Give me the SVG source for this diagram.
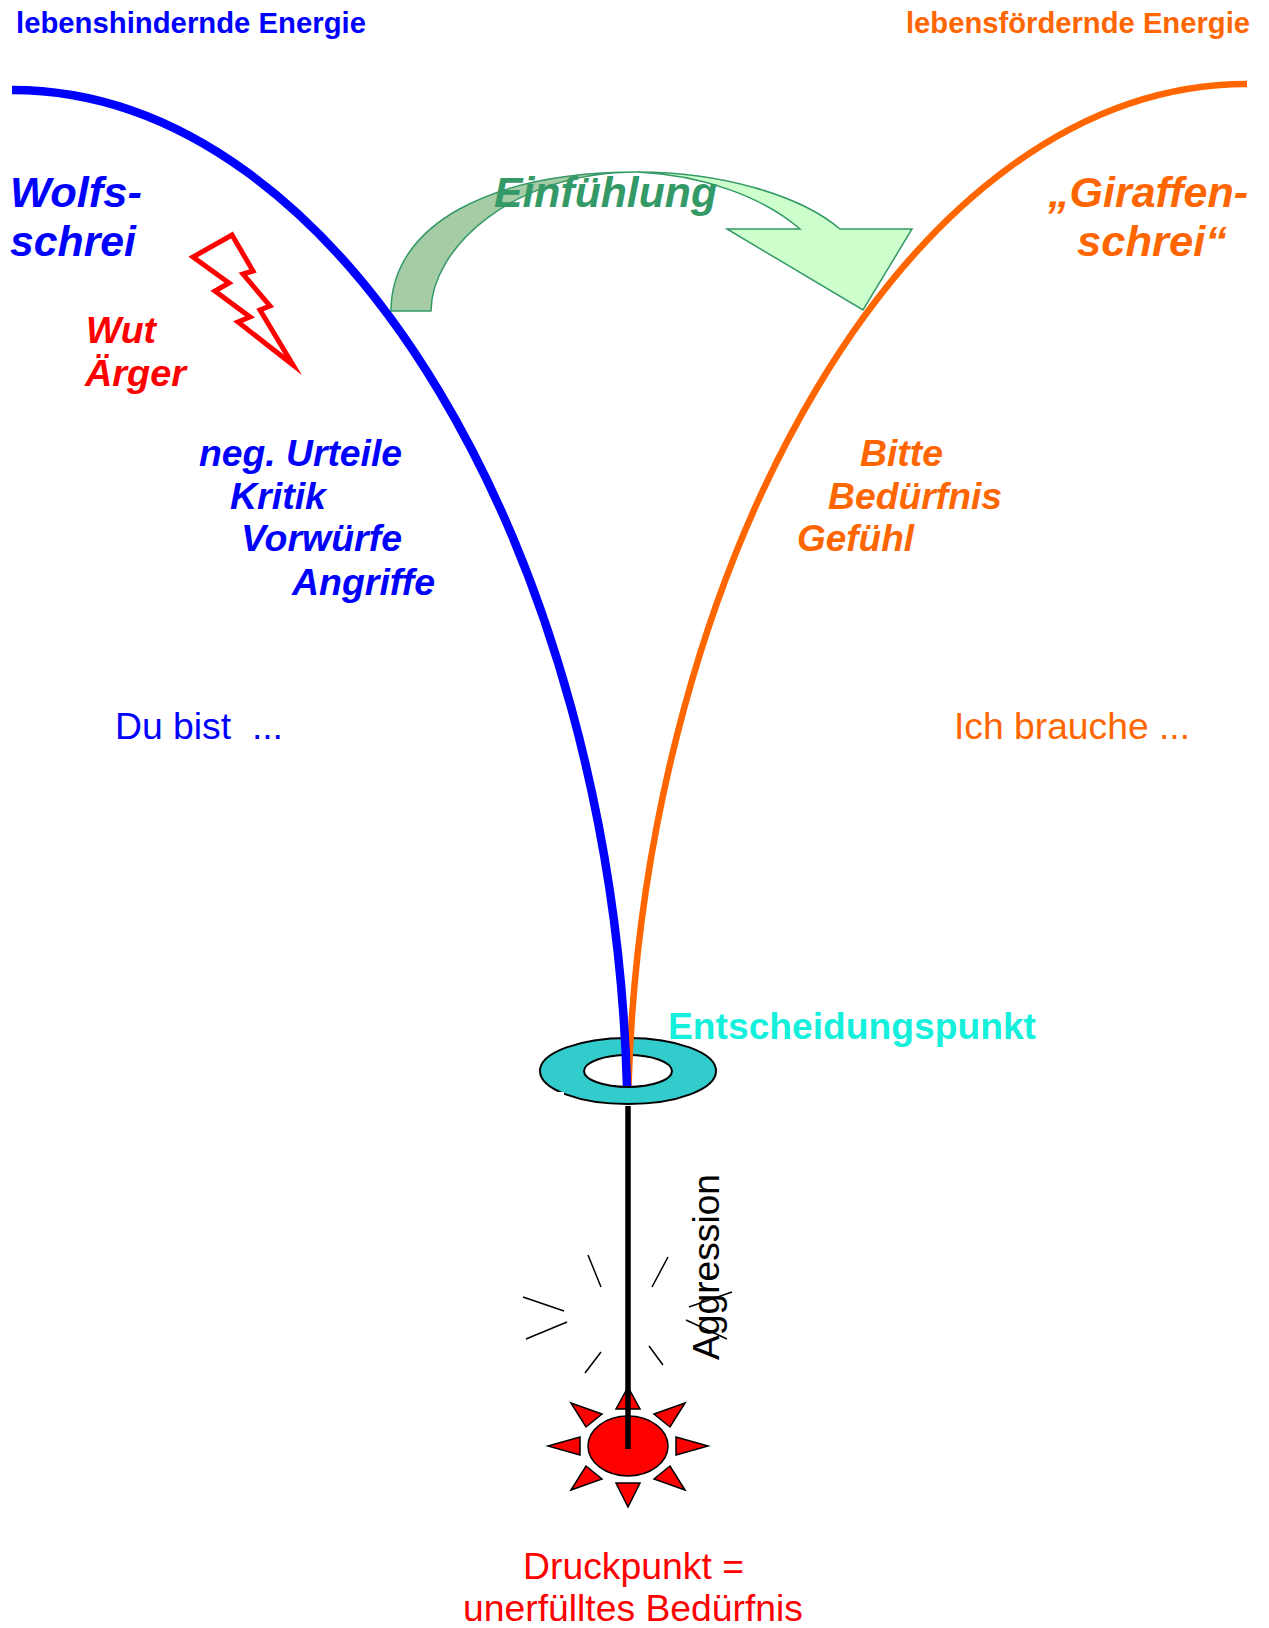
<svg xmlns="http://www.w3.org/2000/svg" width="1269" height="1628" viewBox="0 0 1269 1628">
<style>
text{font-family:"Liberation Sans",Arial,sans-serif;white-space:pre}
.b{font-weight:bold}
.bi{font-weight:bold;font-style:italic}
.bl{fill:#0000ff}.or{fill:#ff6600}.rd{fill:#ff0000}.gr{fill:#339966}
.s{fill:#ff0000;stroke:#000;stroke-width:1.5}
.t{stroke:#000;stroke-width:1.5;fill:none}
</style>
<rect width="1269" height="1628" fill="#fff"/>
<g id="ring"><path fill-rule="evenodd" d="M540 1071A88 33 0 1 1 716 1071A88 33 0 1 1 540 1071ZM584 1071A44 16 0 1 0 672 1071A44 16 0 1 0 584 1071Z" fill="#33cccc" stroke="#000" stroke-width="2"/><rect x="553" y="1092" width="11" height="5" fill="#fff"/></g>
<g id="einfuehlung-arrow">
<path d="M391 311C391 225 490 172 638 172C510 172 431 250 431 311Z" fill="#a6cca6" stroke="#339966" stroke-width="1.5"/>
<path d="M638 172C720 172 800 195 840 229H912L863 310L727 229H800C760 195 700 175 638 172Z" fill="#ccffcc" stroke="#339966" stroke-width="1.5"/>
</g>
<g id="blitz"><path d="M232 235L193 257L229 283L215 291L250 317L238 322L293 365L260 310L270 306L243 274L253 271Z" fill="#fff" stroke="#ff0000" stroke-width="5" stroke-miterlimit="10"/></g>
<g id="sun">
<ellipse cx="628" cy="1446" rx="40" ry="30" class="s"/>
<path class="s" d="M628 1387L616 1409H640Z"/>
<path class="s" d="M628 1507L616 1483H640Z"/>
<path class="s" d="M548 1446L580 1437V1455Z"/>
<path class="s" d="M708 1446L676 1437V1455Z"/>
<path class="s" d="M571 1403L586 1427L602 1414Z"/>
<path class="s" d="M685 1403L670 1427L654 1414Z"/>
<path class="s" d="M571 1490L586 1466L602 1479Z"/>
<path class="s" d="M685 1490L670 1466L654 1479Z"/>
</g>
<g id="ticks">
<path class="t" d="M588 1255L601 1287M668 1257L652 1287M523 1297L564 1311M526 1339L567 1322M585 1373L601 1352M663 1365L649 1346M689 1307L732 1292M686 1320L727 1339"/>
</g>
<g id="connectors">
<path d="M1247 84C910 84 644 560 628.5 1086" fill="none" stroke="#ff6600" stroke-width="6.5"/>
<path d="M12 90C345 90 612 560 627 1086" fill="none" stroke="#0000ff" stroke-width="8.5"/>
<path d="M628 1106V1449" stroke="#000" stroke-width="5.5" fill="none"/>
</g>
<g id="labels">
<text x="16" y="33" class="b bl" font-size="29" textLength="350" lengthAdjust="spacingAndGlyphs">lebenshindernde Energie</text>
<text x="906" y="33" class="b or" font-size="29" textLength="344" lengthAdjust="spacingAndGlyphs">lebensfördernde Energie</text>
<text x="10" y="207" class="bi bl" font-size="43" textLength="132" lengthAdjust="spacingAndGlyphs">Wolfs-</text>
<text x="10" y="256" class="bi bl" font-size="43" textLength="126" lengthAdjust="spacingAndGlyphs">schrei</text>
<text x="1048" y="207" class="bi or" font-size="43" textLength="200" lengthAdjust="spacingAndGlyphs">„Giraffen-</text>
<text x="1077" y="256" class="bi or" font-size="43" textLength="150" lengthAdjust="spacingAndGlyphs">schrei“</text>
<text x="494" y="207" class="bi gr" font-size="43" textLength="223" lengthAdjust="spacingAndGlyphs">Einfühlung</text>
<text x="86" y="343" class="bi rd" font-size="36" textLength="70" lengthAdjust="spacingAndGlyphs">Wut</text>
<text x="85" y="386" class="bi rd" font-size="36" textLength="101" lengthAdjust="spacingAndGlyphs">Ärger</text>
<text x="199" y="466" class="bi bl" font-size="36" textLength="203" lengthAdjust="spacingAndGlyphs">neg. Urteile</text>
<text x="230" y="509" class="bi bl" font-size="36" textLength="96" lengthAdjust="spacingAndGlyphs">Kritik</text>
<text x="241" y="551" class="bi bl" font-size="36" textLength="161" lengthAdjust="spacingAndGlyphs">Vorwürfe</text>
<text x="292" y="595" class="bi bl" font-size="36" textLength="143" lengthAdjust="spacingAndGlyphs">Angriffe</text>
<text x="860" y="466" class="bi or" font-size="36" textLength="83" lengthAdjust="spacingAndGlyphs">Bitte</text>
<text x="828" y="509" class="bi or" font-size="36" textLength="174" lengthAdjust="spacingAndGlyphs">Bedürfnis</text>
<text x="797" y="551" class="bi or" font-size="36" textLength="117" lengthAdjust="spacingAndGlyphs">Gefühl</text>
<text x="115" y="739" class="bl" font-size="36" textLength="168" lengthAdjust="spacingAndGlyphs">Du bist  ...</text>
<text x="954" y="739" class="or" font-size="36" textLength="236" lengthAdjust="spacingAndGlyphs">Ich brauche ...</text>
<text x="668" y="1039" class="b" fill="#14f0dc" font-size="36" textLength="368" lengthAdjust="spacingAndGlyphs">Entscheidungspunkt</text>
<text x="0" y="0" font-size="36" transform="translate(719 1360) rotate(-90)" textLength="186" lengthAdjust="spacingAndGlyphs">Aggression</text>
<text x="523" y="1579" class="rd" font-size="36" textLength="221" lengthAdjust="spacingAndGlyphs">Druckpunkt =</text>
<text x="463" y="1621" class="rd" font-size="36" textLength="340" lengthAdjust="spacingAndGlyphs">unerfülltes Bedürfnis</text>
</g>
</svg>
